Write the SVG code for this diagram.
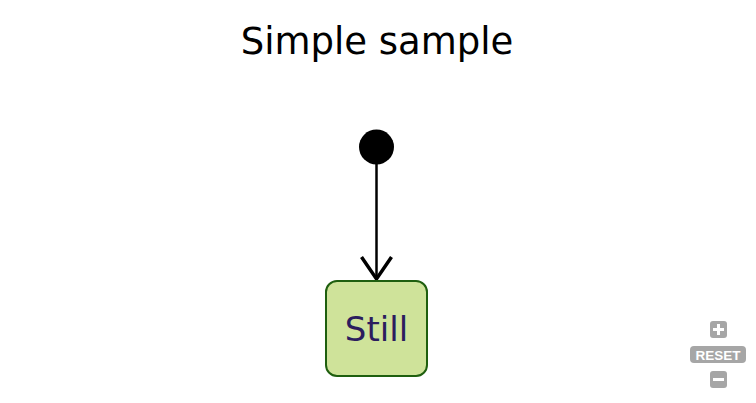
<svg xmlns="http://www.w3.org/2000/svg" width="756" height="403" viewBox="0 0 756 403">
<style>
.title{font-family:"DejaVu Sans","Noto Sans",sans-serif;font-size:37px;fill:#000;text-anchor:middle}
.state{fill:#cfe39a;stroke:#1f5f0f;stroke-width:2}
.label{font-family:"DejaVu Sans","Noto Sans",sans-serif;font-size:34px;fill:#2c1d5e;text-anchor:middle}
.edge{stroke:#000;stroke-width:2.5;fill:none}
.ctl{fill:#a6a6a6}
.ctltxt{font-family:"Liberation Sans",Arial,sans-serif;font-size:13.5px;font-weight:bold;fill:#fff;text-anchor:middle}
</style>
<defs>
<marker id="arrow" markerWidth="30" markerHeight="34" refX="23" refY="17" orient="auto" markerUnits="userSpaceOnUse">
<path d="M1,2 L23,17 L1,32" fill="none" stroke="#000" stroke-width="3.5"/>
</marker>
</defs>
<rect width="756" height="403" fill="#fff"/>
<text class="title" x="377" y="54">Simple sample</text>
<g id="connectors">
<line class="edge" x1="376.5" y1="164" x2="376.5" y2="279" marker-end="url(#arrow)"/>
</g>
<g id="start">
<circle cx="376.5" cy="147" r="17.5" fill="#000"/>
</g>
<g id="still">
<rect class="state" x="326" y="281" width="101" height="95" rx="11"/>
<text class="label" x="376.5" y="341">Still</text>
</g>
<g id="zoom-controls">
<rect class="ctl" x="710" y="321" width="17" height="17" rx="3"/>
<path d="M718.5,324 v11 M713,329.5 h11" stroke="#fff" stroke-width="3"/>
<rect class="ctl" x="690" y="346" width="56" height="17" rx="4"/>
<text class="ctltxt" x="718" y="359.5">RESET</text>
<rect class="ctl" x="710" y="371" width="17" height="17" rx="3"/>
<path d="M713,379.5 h11" stroke="#fff" stroke-width="3"/>
</g>
</svg>
